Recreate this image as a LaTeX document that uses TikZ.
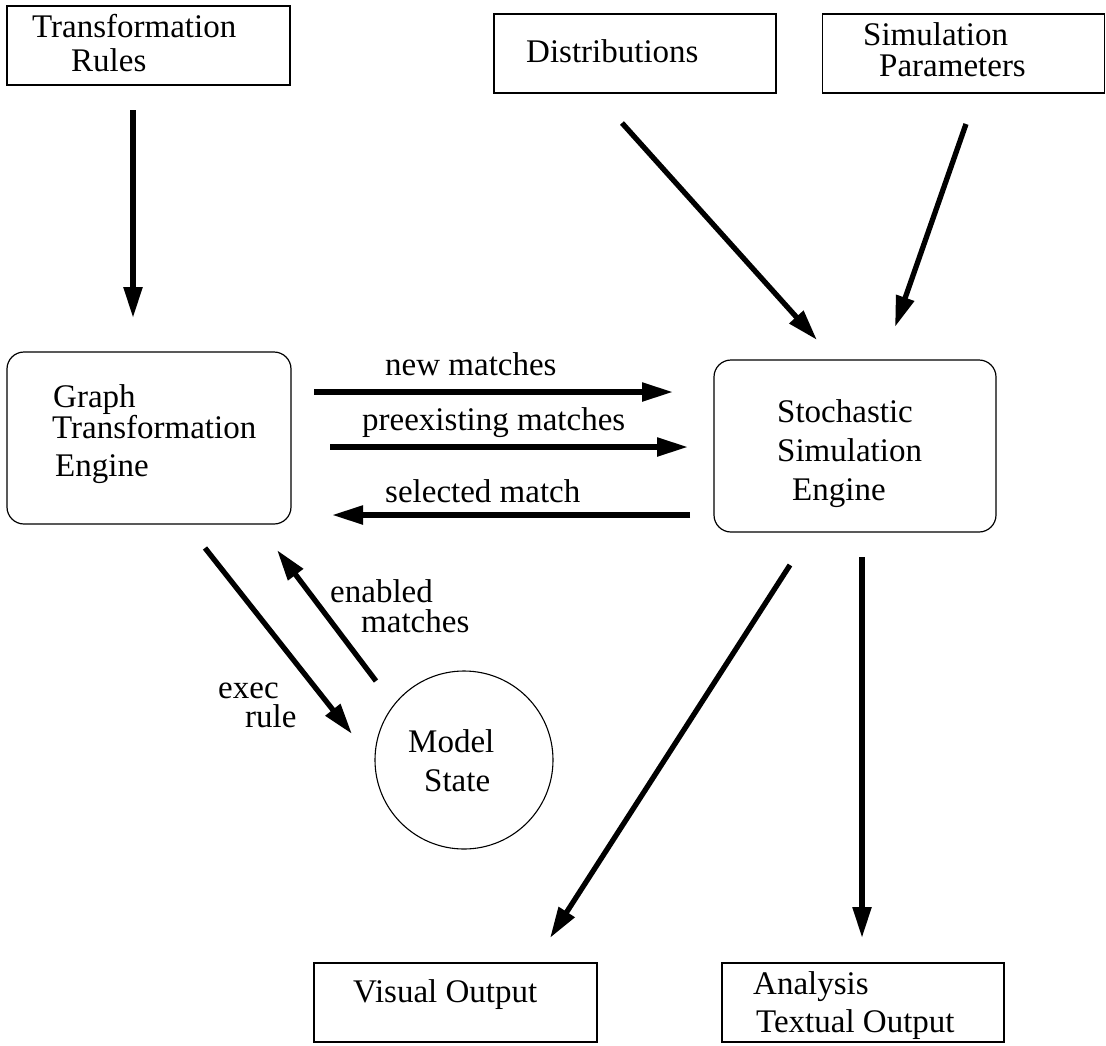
\documentclass[tikz,border=0pt]{standalone}
\usepackage{fontspec}
\setmainfont{Liberation Serif}
\usetikzlibrary{arrows.meta}
\begin{document}
\begin{tikzpicture}[x=1pt,y=-1pt,
  box/.style={draw,line width=1.2pt,rectangle,minimum width=282pt,minimum height=79pt,inner sep=0pt},
  engine/.style={box,rounded corners=17pt,minimum height=172pt},
  statenode/.style={draw,line width=1.1pt,circle,minimum size=178pt,inner sep=0pt},
  txt/.style={anchor=base west,inner sep=0pt,font=\fontsize{33}{36}\selectfont},
  flow/.style={line width=5.3pt,-{Triangle[length=31pt,width=18pt]}}]
\useasboundingbox (0,0) rectangle (1106,1045);

% boxes
\node[box,minimum width=283pt] (tr) at (148.5,45.5) {};
\node[box] (dist) at (635,53.5) {};
\node[box] (simp) at (963.5,53.5) {};
\node[engine,minimum width=284pt] (gte) at (149,438) {};
\node[engine] (sse) at (855,446) {};
\node[statenode] (ms) at (464,760) {};
\node[box,minimum width=283pt] (vis) at (455.5,1002.5) {};
\node[box] (ana) at (863,1002.5) {};

% box texts
\node[txt] (tr1) at (32,37) {Transformation};
\node[txt] (tr2) at (71,71) {Rules};
\node[txt] (dist1) at (526,62) {Distributions};
\node[txt] (simp1) at (863,45) {Simulation};
\node[txt] (simp2) at (879,76) {Parameters};
\node[txt] (gte1) at (53,407) {Graph};
\node[txt] (gte2) at (52,438) {Transformation};
\node[txt] (gte3) at (55,476) {Engine};
\node[txt] (sse1) at (777,422) {Stochastic};
\node[txt] (sse2) at (777,461) {Simulation};
\node[txt] (sse3) at (792,500) {Engine};
\node[txt] (ms1) at (408,752) {Model};
\node[txt] (ms2) at (424,791) {State};
\node[txt] (vis1) at (353,1002) {Visual Output};
\node[txt] (ana1) at (753,994) {Analysis};
\node[txt] (ana2) at (756,1032) {Textual Output};

% connector labels
\node[txt] (lnew) at (385,375) {new matches};
\node[txt] (lpre) at (362,430) {preexisting matches};
\node[txt] (lsel) at (385,502) {selected match};
\node[txt] (lexec1) at (218,698) {exec};
\node[txt] (lexec2) at (245,727) {rule};
\node[txt] (len1) at (330,602) {enabled};
\node[txt] (len2) at (361,632) {matches};

% connector end points
\coordinate (trA) at (133,110);   \coordinate (trB) at (133,318);
\coordinate (diA) at (622,123);   \coordinate (diB) at (817,340);
\coordinate (spA) at (966,124);   \coordinate (spB) at (895,327);
\coordinate (nmA) at (314,392);   \coordinate (nmB) at (673,392);
\coordinate (pmA) at (330,447);   \coordinate (pmB) at (688,447);
\coordinate (smA) at (690,515);   \coordinate (smB) at (332,515);
\coordinate (exA) at (205,548);   \coordinate (exB) at (352,734);
\coordinate (enA) at (376,681);   \coordinate (enB) at (277,550);
\coordinate (voA) at (790,565);   \coordinate (voB) at (550,938);
\coordinate (aoA) at (862,557);   \coordinate (aoB) at (862,938);

% connectors
\draw[flow] (trA) -- (trB);
\draw[flow] (diA) -- (diB);
\draw[flow] (spA) -- (spB);
\draw[flow] (nmA) -- (nmB);
\draw[flow] (pmA) -- (pmB);
\draw[flow] (smA) -- (smB);
\draw[flow] (exA) -- (exB);
\draw[flow] (enA) -- (enB);
\draw[flow] (voA) -- (voB);
\draw[flow] (aoA) -- (aoB);
\end{tikzpicture}
\end{document}
